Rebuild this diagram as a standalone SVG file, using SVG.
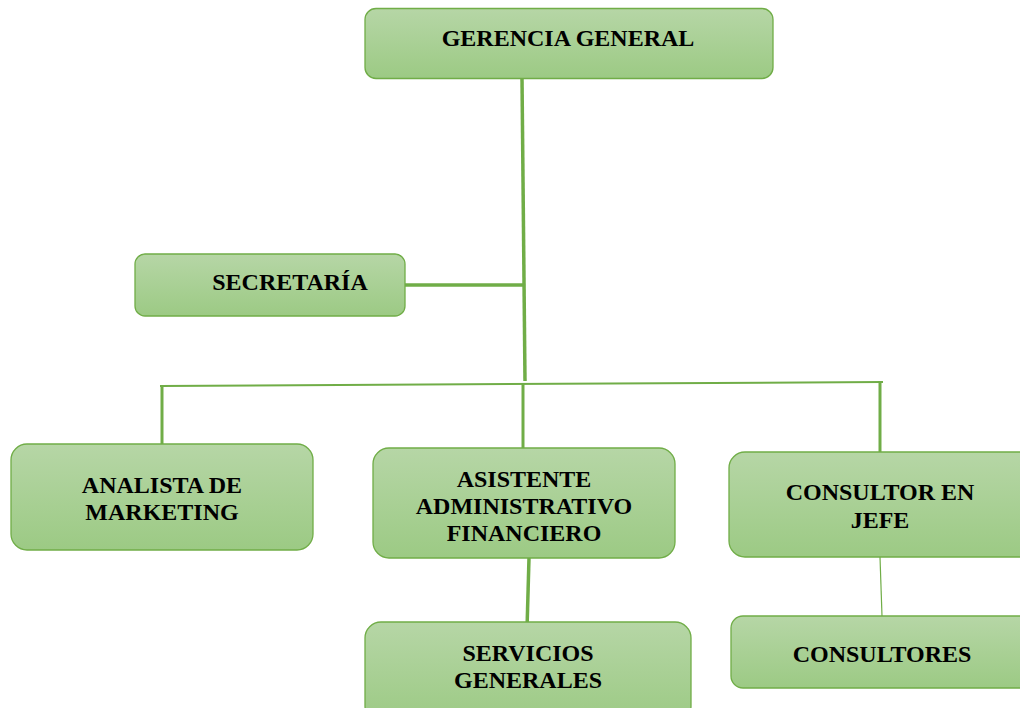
<svg xmlns="http://www.w3.org/2000/svg" width="1020" height="708" viewBox="0 0 1020 708">
<defs>
<linearGradient id="g" x1="0" y1="0" x2="0" y2="1">
<stop offset="0" stop-color="#b6d6a6"/>
<stop offset="1" stop-color="#9cca84"/>
</linearGradient>
<style>
.box{fill:url(#g);stroke:#70ad47;stroke-width:1.3}
.t{font-family:"Liberation Serif","Times New Roman",serif;font-weight:bold;font-size:24px;fill:#000;text-anchor:middle}
.c{stroke:#70ad47;fill:none}
</style>
</defs>
<rect width="1020" height="708" fill="#fff"/>
<g id="connectors">
<line class="c" x1="522" y1="78" x2="525" y2="381" stroke-width="3.5"/>
<line class="c" x1="405" y1="285" x2="523" y2="285" stroke-width="3.5"/>
<line class="c" x1="160" y1="386" x2="883" y2="382" stroke-width="2"/>
<line class="c" x1="162" y1="386" x2="162" y2="444" stroke-width="3"/>
<line class="c" x1="523" y1="384" x2="523" y2="448" stroke-width="3"/>
<line class="c" x1="880" y1="382" x2="880" y2="452" stroke-width="3"/>
<line class="c" x1="529" y1="558" x2="527" y2="629" stroke-width="3.5"/>
<line class="c" x1="880" y1="557" x2="882" y2="616" stroke-width="1.2"/>
</g>
<g id="gerencia">
<rect class="box" x="365" y="8.5" width="408" height="70" rx="11"/>
<text class="t" x="568" y="46">GERENCIA GENERAL</text>
</g>
<g id="secretaria">
<rect class="box" x="135" y="254" width="270" height="62" rx="10"/>
<text class="t" x="290" y="290">SECRETARÍA</text>
</g>
<g id="analista">
<rect class="box" x="11" y="444" width="302" height="106" rx="16"/>
<text class="t" x="162" y="493">ANALISTA DE</text>
<text class="t" x="162" y="520">MARKETING</text>
</g>
<g id="asistente">
<rect class="box" x="373" y="448" width="302" height="110" rx="16"/>
<text class="t" x="524" y="487">ASISTENTE</text>
<text class="t" x="524" y="514">ADMINISTRATIVO</text>
<text class="t" x="524" y="541">FINANCIERO</text>
</g>
<g id="consultor-jefe">
<rect class="box" x="729" y="452" width="310" height="105" rx="16"/>
<text class="t" x="880" y="500">CONSULTOR EN</text>
<text class="t" x="880" y="528">JEFE</text>
</g>
<g id="servicios">
<rect class="box" x="365" y="622" width="326" height="100" rx="16"/>
<text class="t" x="528" y="661">SERVICIOS</text>
<text class="t" x="528" y="688">GENERALES</text>
</g>
<g id="consultores">
<rect class="box" x="731" y="616" width="310" height="72" rx="12"/>
<text class="t" x="882" y="662">CONSULTORES</text>
</g>
</svg>
